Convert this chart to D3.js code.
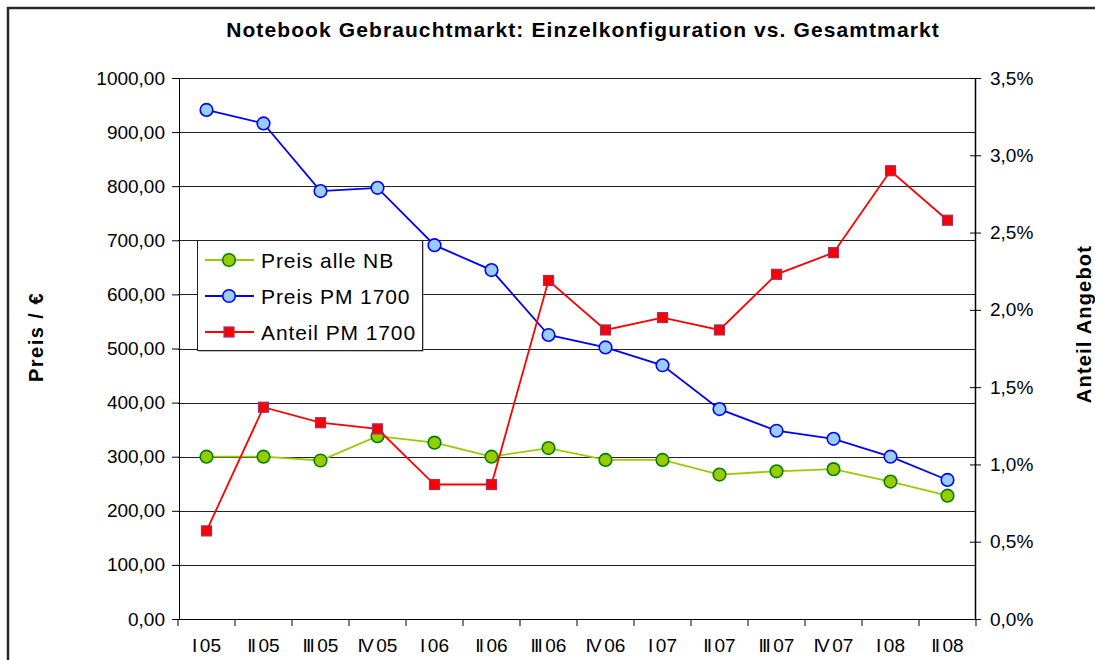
<!DOCTYPE html>
<html>
<head>
<meta charset="utf-8">
<script src="https://cdn.jsdelivr.net/npm/d3@7"></script>
<style>
  html, body { margin: 0; padding: 0; background: #fff; }
  svg { display: block; font-family: "Liberation Sans", Arial, sans-serif; }
</style>
</head>
<body>
<svg id="chart" width="1095" height="660"></svg>
<script>
// ---- data ----
const categories = ["I 05","II 05","III 05","IV 05","I 06","II 06","III 06","IV 06","I 07","II 07","III 07","IV 07","I 08","II 08"];
const preisAlleNB = [300, 300, 293, 338, 326, 300, 316, 294, 294, 267, 273, 277, 254, 228];
const preisPM1700 = [941, 916, 791, 797, 691, 645, 525, 502, 469, 388, 348, 333, 300, 257];
const anteilPM1700 = [0.57, 1.37, 1.27, 1.23, 0.87, 0.87, 2.19, 1.87, 1.95, 1.87, 2.23, 2.37, 2.90, 2.58];
const leftTicks = [0, 100, 200, 300, 400, 500, 600, 700, 800, 900, 1000];
const rightTicks = [0, 0.5, 1.0, 1.5, 2.0, 2.5, 3.0, 3.5];
const title = "Notebook Gebrauchtmarkt: Einzelkonfiguration vs. Gesamtmarkt";
const leftTitle = "Preis / €";
const rightTitle = "Anteil Angebot";
const seriesNames = ["Preis alle NB", "Preis PM 1700", "Anteil PM 1700"];

const svg = d3.select("#chart");
const L = 178, R = 976, T = 78, B = 619;

const x = d3.scaleBand().domain(categories).range([L, R]);
const yL = d3.scaleLinear().domain([0, 1000]).range([B, T]);
const yR = d3.scaleLinear().domain([0, 3.5]).range([B, T]);

// outer frame (left & top)
svg.append("path").attr("d", "M8,660 V8 H1095").attr("fill", "none")
  .attr("stroke", "#2a2a2a").attr("stroke-width", 2.5);

// title
svg.append("text").attr("x", 583).attr("y", 37).attr("text-anchor", "middle")
  .attr("font-size", 21).attr("font-weight", "bold").attr("letter-spacing", 1.1)
  .attr("fill", "#000").text(title);

// gridlines
svg.append("g").selectAll("line").data(leftTicks.filter(d => d > 0)).join("line")
  .attr("x1", L).attr("x2", R)
  .attr("y1", d => Math.round(yL(d)) + 0.5).attr("y2", d => Math.round(yL(d)) + 0.5)
  .attr("stroke", "#222").attr("stroke-width", 1);

// left axis
const fmtL = d => d.toFixed(2).replace(".", ",");
const gL = svg.append("g").attr("transform", `translate(${L + 1},0)`)
  .call(d3.axisLeft(yL).tickValues(leftTicks).tickFormat(fmtL).tickSize(7).tickPadding(7));
gL.attr("font-family", null);
gL.selectAll("text").attr("font-size", 19).attr("fill", "#000");
gL.selectAll("line").attr("stroke", "#000");
gL.select(".domain").attr("stroke", "#000");

// right axis
const fmtR = d => d.toFixed(1).replace(".", ",") + "%";
const gR = svg.append("g").attr("transform", `translate(${R - 1},0)`)
  .call(d3.axisRight(yR).tickValues(rightTicks).tickFormat(fmtR).tickSizeInner(6).tickSizeOuter(0).tickPadding(9));
gR.attr("font-family", null);
gR.selectAll(".tick line").attr("x1", -5).attr("stroke", "#000");
gR.selectAll("text").attr("font-size", 19).attr("fill", "#000");
gR.select(".domain").attr("stroke", "#000").attr("stroke-width", 1.5);

// bottom axis
const gB = svg.append("g").attr("transform", `translate(0,${B})`);
gB.append("line").attr("x1", L).attr("x2", R).attr("y1", 0.5).attr("y2", 0.5).attr("stroke", "#000");
const bounds = categories.map(c => x(c)).concat([R]);
gB.selectAll("line.tk").data(bounds).join("line").attr("class", "tk")
  .attr("x1", d => d).attr("x2", d => d).attr("y1", 0).attr("y2", 7).attr("stroke", "#000");
const xl = gB.selectAll("text").data(categories).join("text")
  .attr("x", d => x(d) + x.bandwidth() / 2).attr("y", 33)
  .attr("text-anchor", "middle").attr("font-size", 19).attr("fill", "#000");
xl.append("tspan").attr("letter-spacing", -1.8).text(d => d.split(" ")[0]);
xl.append("tspan").attr("dx", -1).text(d => " " + d.split(" ")[1]);

// axis titles
svg.append("text").attr("transform", "translate(43,337) rotate(-90)")
  .attr("text-anchor", "middle").attr("font-size", 20).attr("font-weight", "bold")
  .attr("letter-spacing", 1.5).text(leftTitle);
svg.append("text").attr("transform", "translate(1091,324) rotate(-90)")
  .attr("text-anchor", "middle").attr("font-size", 20).attr("font-weight", "bold")
  .attr("letter-spacing", 1.2).text(rightTitle);

const cx = (d, i) => x(categories[i]) + x.bandwidth() / 2;

// green series
const lineL = d3.line().x(cx).y(d => yL(d));
const lineR = d3.line().x(cx).y(d => yR(d));
svg.append("path").datum(preisAlleNB).attr("d", lineL).attr("fill", "none")
  .attr("stroke", "#99cc00").attr("stroke-width", 1.8);
svg.append("g").selectAll("circle").data(preisAlleNB).join("circle")
  .attr("cx", cx).attr("cy", d => yL(d)).attr("r", 6.3)
  .attr("fill", "#99cc00").attr("stroke", "#008000").attr("stroke-width", 1.6);

// blue series
svg.append("path").datum(preisPM1700).attr("d", lineL).attr("fill", "none")
  .attr("stroke", "#0000ff").attr("stroke-width", 1.8);
svg.append("g").selectAll("circle").data(preisPM1700).join("circle")
  .attr("cx", cx).attr("cy", d => yL(d)).attr("r", 6.3)
  .attr("fill", "#99ccff").attr("stroke", "#0000ff").attr("stroke-width", 1.6);

// red series
svg.append("path").datum(anteilPM1700).attr("d", lineR).attr("fill", "none")
  .attr("stroke", "#ff0000").attr("stroke-width", 1.8);
svg.append("g").selectAll("rect").data(anteilPM1700).join("rect")
  .attr("x", (d, i) => cx(d, i) - 5).attr("y", d => yR(d) - 5)
  .attr("width", 10).attr("height", 10)
  .attr("fill", "#ff0000").attr("stroke", "#993366").attr("stroke-width", 1.2);

// legend
const lg = svg.append("g").attr("transform", "translate(197,240)");
lg.append("rect").attr("x", 1.5).attr("y", 1.5).attr("width", 225).attr("height", 110)
  .attr("fill", "#808080");
lg.append("rect").attr("x", 0.5).attr("y", 0.5).attr("width", 225).attr("height", 110)
  .attr("fill", "#fff").attr("stroke", "#222").attr("stroke-width", 1);
const legItems = [
  { name: seriesNames[0], line: "#99cc00", fill: "#99cc00", stroke: "#008000", shape: "circle" },
  { name: seriesNames[1], line: "#0000ff", fill: "#99ccff", stroke: "#0000ff", shape: "circle" },
  { name: seriesNames[2], line: "#ff0000", fill: "#ff0000", stroke: "#993366", shape: "rect" }
];
const li = lg.selectAll("g.it").data(legItems).join("g").attr("class", "it")
  .attr("transform", (d, i) => `translate(0,${20 + i * 36})`);
li.append("line").attr("x1", 8).attr("x2", 57).attr("y1", 0).attr("y2", 0)
  .attr("stroke", d => d.line).attr("stroke-width", 1.8);
li.filter(d => d.shape === "circle").append("circle").attr("cx", 32).attr("cy", 0).attr("r", 6.3)
  .attr("fill", d => d.fill).attr("stroke", d => d.stroke).attr("stroke-width", 1.6);
li.filter(d => d.shape === "rect").append("rect").attr("x", 27).attr("y", -5).attr("width", 10).attr("height", 10)
  .attr("fill", d => d.fill).attr("stroke", d => d.stroke).attr("stroke-width", 1.2);
li.append("text").attr("x", 64).attr("y", 7.5).attr("font-size", 21).attr("letter-spacing", 0.9)
  .attr("fill", "#000").text(d => d.name);
</script>
</body>
</html>
